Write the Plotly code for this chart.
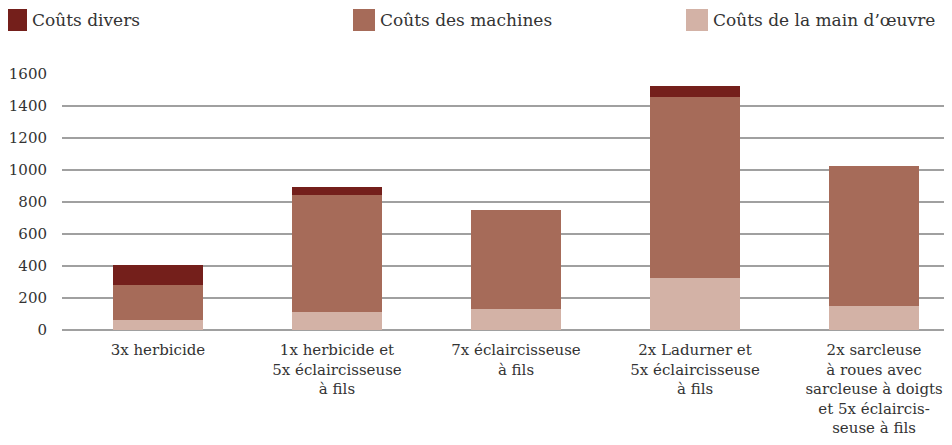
import plotly.graph_objects as go

categories = [
    "3x herbicide",
    "1x herbicide et<br>5x éclaircisseuse<br>à fils",
    "7x éclaircisseuse<br>à fils",
    "2x Ladurner et<br>5x éclaircisseuse<br>à fils",
    "2x sarcleuse<br>à roues avec<br>sarcleuse à doigts<br>et 5x éclaircis-<br>seuse à fils",
]
labor = [65, 112, 130, 325, 150]
machines = [215, 732, 620, 1131, 875]
divers = [125, 50, 0, 69, 0]

series_names = ["Coûts de la main d’œuvre", "Coûts des machines", "Coûts divers"]
colors = ["#d3b2a6", "#a66b59", "#741f1b"]
y_ticks = [0, 200, 400, 600, 800, 1000, 1200, 1400, 1600]

FONT = "DejaVu Serif"

# page has an 8px body margin; compensate so the figure lands where the reference is
OFF = 8
W, H = 952 - OFF, 445 - OFF
PL, PR, PT, PB = 62, 948, 74, 330  # plot area in reference page pixels

fig = go.Figure()
for name, vals, col in zip(series_names, [labor, machines, divers], colors):
    fig.add_trace(go.Bar(x=categories, y=vals, name=name, marker_color=col,
                         marker_line_width=0, width=0.503, showlegend=False))

# custom legend (order as in reference)
legend_items = [("Coûts divers", "#741f1b", 5), ("Coûts des machines", "#a66b59", 353),
                ("Coûts de la main d’œuvre", "#d3b2a6", 686)]
for txt, col, px in legend_items:
    fig.add_shape(type="rect", xref="paper", yref="paper",
                  x0=(px - PL) / (PR - PL), x1=(px + 22 - PL) / (PR - PL),
                  y0=(PB - 31) / (PB - PT), y1=(PB - 9) / (PB - PT),
                  fillcolor=col, line_width=0, layer="above")
    fig.add_annotation(text=txt, xref="paper", yref="paper",
                       x=(px + 25 - PL) / (PR - PL), y=(PB - 20) / (PB - PT),
                       xanchor="left", yanchor="middle", showarrow=False,
                       font=dict(family=FONT, size=17, color="#333333"))

fig.update_layout(
    barmode="stack",
    width=W, height=H,
    margin=dict(l=PL - OFF, r=W - (PR - OFF), t=PT - OFF, b=H - (PB - OFF), autoexpand=False),
    plot_bgcolor="white", paper_bgcolor="white",
    font=dict(family=FONT, size=15, color="#333333"),
    xaxis=dict(range=[-0.536, 4.413], showgrid=False, showline=False, automargin=False,
               ticks="", tickfont=dict(size=15), ticklabelstandoff=9),
    yaxis=dict(range=[0, 1600], tickvals=y_ticks, showgrid=True, automargin=False,
               gridcolor="#a0a0a0", gridwidth=1.5, zeroline=True,
               zerolinecolor="#a0a0a0", zerolinewidth=1.5, ticks="",
               ticklabelstandoff=14, tickfont=dict(size=15)),
)
fig.write_html("out.html")
